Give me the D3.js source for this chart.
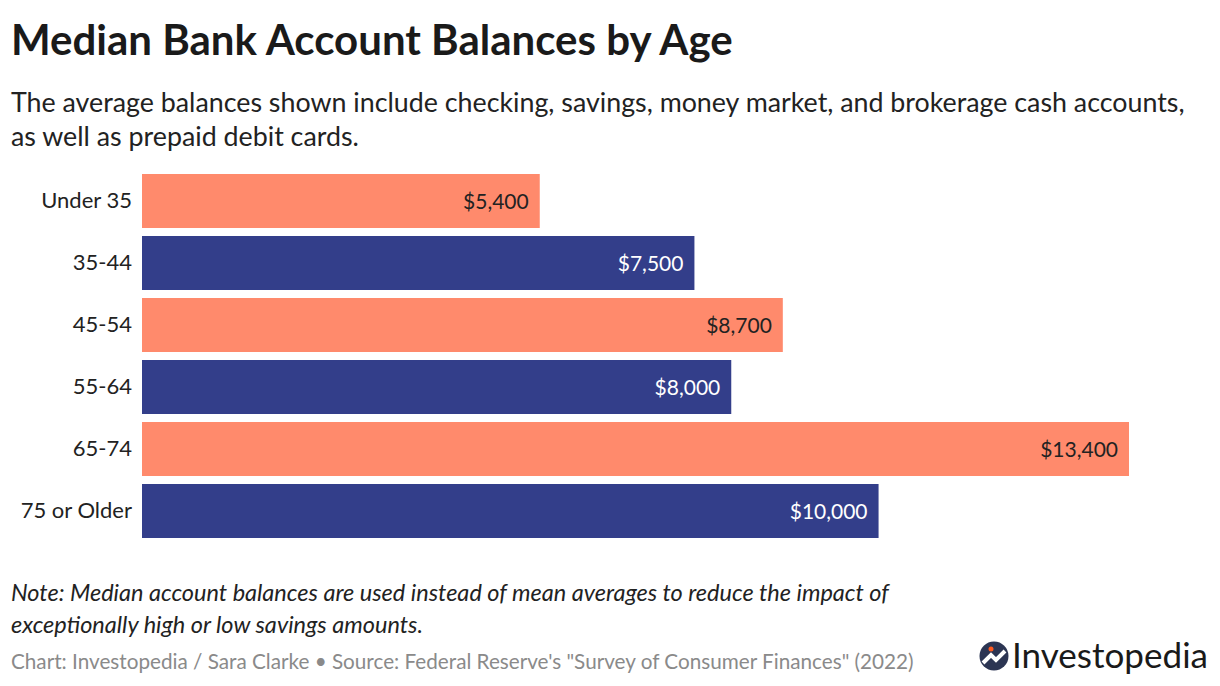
<!DOCTYPE html>
<html>
<head>
<meta charset="utf-8">
<script src="https://cdn.jsdelivr.net/npm/d3@7"></script>
<style>
  body { margin: 0; background: #fff; }
  svg { font-family: "Lato", "Noto Sans", sans-serif; }
</style>
</head>
<body>
<svg id="chart" width="1220" height="686"></svg>
<script>
// Data
const ages = ["Under 35", "35-44", "45-54", "55-64", "65-74", "75 or Older"];
const balances = [5400, 7500, 8700, 8000, 13400, 10000];
const barColors = ["#ff8a6c", "#333e8a"];
const labelColors = ["#222222", "#ffffff"];

let chart = d3.select("#chart");

// Title + subtitle
chart.append("text")
    .text("Median Bank Account Balances by Age")
    .attr("x", 11).attr("y", 55)
    .style("font-size", "42px").style("font-weight", 700)
    .attr("fill", "#1a1a1a");

chart.append("text")
    .text("The average balances shown include checking, savings, money market, and brokerage cash accounts,")
    .attr("x", 11).attr("y", 112)
    .style("font-size", "26.8px").attr("fill", "#222");
chart.append("text")
    .text("as well as prepaid debit cards.")
    .attr("x", 11).attr("y", 146)
    .style("font-size", "26.8px").attr("fill", "#222");

// Scales
let x = d3.scaleLinear()
    .domain([0, 13400])
    .range([142, 1129]);

let y = d3.scaleBand()
    .domain(ages)
    .range([174, 538])
    .paddingInner(0.129)
    .paddingOuter(0);

// Y axis (labels only)
let yAxis = d3.axisLeft(y).tickSize(0).tickPadding(10);
let yAxisGroup = chart.append("g")
    .attr("transform", "translate(142,0)")
    .call(yAxis);
yAxisGroup.select(".domain").remove();
yAxisGroup.selectAll("text")
    .style("font-size", "22px")
    .style("font-family", "Lato, 'Noto Sans', sans-serif")
    .attr("fill", "#222");

// Bars
chart.selectAll(".bar")
    .data(balances)
    .enter().append("rect")
    .attr("class", "bar")
    .attr("x", x(0))
    .attr("y", (d, i) => y(ages[i]))
    .attr("width", d => x(d) - x(0))
    .attr("height", y.bandwidth())
    .attr("fill", (d, i) => barColors[i % 2]);

// Value labels
chart.selectAll(".val")
    .data(balances)
    .enter().append("text")
    .attr("class", "val")
    .text(d => "$" + d3.format(",")(d))
    .attr("x", d => x(d) - 11)
    .attr("y", (d, i) => y(ages[i]) + y.bandwidth() / 2)
    .attr("dy", "0.36em")
    .attr("text-anchor", "end")
    .style("font-size", "21px")
    .attr("fill", (d, i) => labelColors[i % 2]);

// Note
chart.append("text")
    .text("Note: Median account balances are used instead of mean averages to reduce the impact of")
    .attr("x", 11).attr("y", 601)
    .style("font-size", "23.5px").style("font-style", "italic")
    .attr("fill", "#222");
chart.append("text")
    .text("exceptionally high or low savings amounts.")
    .attr("x", 11).attr("y", 633)
    .style("font-size", "23.5px").style("font-style", "italic")
    .attr("fill", "#222");

// Source line
chart.append("text")
    .text("Chart: Investopedia / Sara Clarke \u2022 Source: Federal Reserve's \"Survey of Consumer Finances\" (2022)")
    .attr("x", 11).attr("y", 669)
    .style("font-size", "20.7px")
    .attr("fill", "#8a8a8a");

// Logo
let logo = chart.append("g").attr("transform", "translate(994,656)");
logo.append("circle").attr("r", 14.5).attr("fill", "#2c3553");
logo.append("path")
    .attr("d", "M-11,7 L-3,-1 L2,4 L11,-5")
    .attr("fill", "none").attr("stroke", "#fff").attr("stroke-width", 4)
    .attr("stroke-linejoin", "miter");
logo.append("circle").attr("cx", -3).attr("cy", -7).attr("r", 2.5).attr("fill", "#ff5a1f");
chart.append("text")
    .text("Investopedia")
    .attr("x", 1012).attr("y", 668)
    .attr("textLength", 196)
    .attr("lengthAdjust", "spacingAndGlyphs")
    .style("font-size", "34px")
    .style("font-family", "Lato, sans-serif")
    .attr("fill", "#1a1a1a");
</script>
</body>
</html>
